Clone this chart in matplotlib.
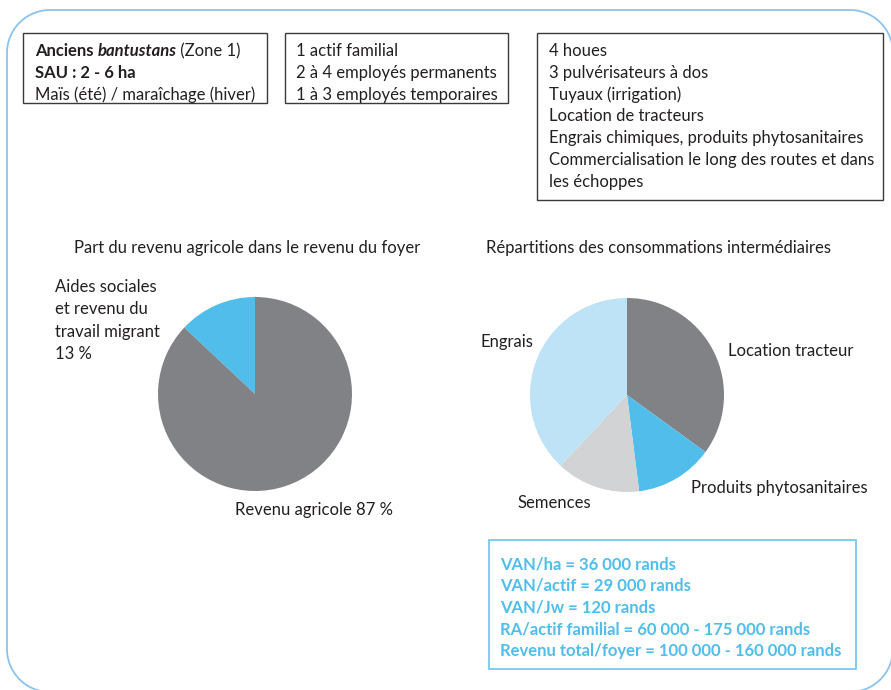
import matplotlib
matplotlib.use("Agg")
import numpy as np
import matplotlib.pyplot as plt
from matplotlib.patches import Rectangle, PathPatch
from matplotlib.path import Path

plt.rcParams["font.family"] = ["Lato", "DejaVu Sans"]

# =============================================================================
# Data
# =============================================================================
household_labels = [["Aides sociales", "et revenu du", "travail migrant", "13 %"],
                    ["Revenu agricole 87 %"]]
household_shares = [13, 87]

input_labels = ["Location tracteur", "Produits phytosanitaires", "Semences", "Engrais"]
input_shares = [35, 13, 14, 38]

labour_lines = ["1 actif familial", "2 à 4 employés permanents", "1 à 3 employés temporaires"]
equipment_lines = [
    "4 houes",
    "3 pulvérisateurs à dos",
    "Tuyaux (irrigation)",
    "Location de tracteurs",
    "Engrais chimiques, produits phytosanitaires",
    "Commercialisation le long des routes et dans",
    "les échoppes",
]
result_lines = [
    "VAN/ha = 36 000 rands",
    "VAN/actif = 29 000 rands",
    "VAN/Jw = 120 rands",
    "RA/actif familial = 60 000 - 175 000 rands",
    "Revenu total/foyer = 100 000 - 160 000 rands",
]

# =============================================================================
# Style
# =============================================================================
TXT = "#231f20"
DARK_GREY = "#808285"
BLUE = "#50bdea"
LIGHT_GREY = "#d1d3d4"
LIGHT_BLUE = "#bee2f6"
FRAME = "#8cc3ee"
FS = 12
LINE = 21.8
DY = 2  # visual baseline correction for va="center"

W, H = 891, 690
fig = plt.figure(figsize=(W / 100, H / 100), dpi=100)
ax = fig.add_axes([0, 0, 1, 1])
ax.set_xlim(0, W)
ax.set_ylim(H, 0)
ax.axis("off")


def label(x, y, s, **kw):
    kw.setdefault("color", TXT)
    return ax.text(x, y + DY, s, fontsize=FS, va="center", **kw)


# outer rounded frame (pixel coords, y downwards)
def rounded_frame(x0, y0, x1, y1, r):
    pts = []
    corners = [(x1 - r, y0 + r, -90, 0), (x1 - r, y1 - r, 0, 90),
               (x0 + r, y1 - r, 90, 180), (x0 + r, y0 + r, 180, 270)]
    for cx, cy, a0, a1 in corners:
        t = np.radians(np.linspace(a0, a1, 30))
        pts += list(zip(cx + r * np.cos(t), cy + r * np.sin(t)))
    pts.append(pts[0])
    return Path(pts)


ax.add_patch(PathPatch(rounded_frame(7, 10, 893, 692, 43), fc="none", ec=FRAME, lw=1.3))

# top boxes
for (x0, y0, x1, y1) in [(23, 33, 267, 103), (285, 33, 508, 103), (537, 33, 883, 200)]:
    ax.add_patch(Rectangle((x0, y0), x1 - x0, y1 - y0, fc="none", ec="#3a3a3a", lw=1.0))

# box 1 (mixed styles)
t1 = label(35, 49, "Anciens ", fontweight="bold")
t2 = ax.annotate("bantustans", xy=(1, 0), xycoords=t1, fontsize=FS, fontweight="bold",
                 fontstyle="italic", color=TXT, va="bottom")
ax.annotate(" (Zone 1)", xy=(1, 0), xycoords=t2, fontsize=FS, color=TXT, va="bottom")
label(35, 49 + LINE, "SAU : 2 - 6 ha", fontweight="bold")
label(35, 49 + 2 * LINE, "Maïs (été) / maraîchage (hiver)")

for i, s in enumerate(labour_lines):
    label(296, 49 + i * LINE, s)
for i, s in enumerate(equipment_lines):
    label(549, 49 + i * LINE, s)

# titles
label(74, 246, "Part du revenu agricole dans le revenu du foyer")
label(486, 246, "Répartitions des consommations intermédiaires")

# pie labels
for i, s in enumerate(household_labels[0]):
    label(55, 285 + i * 22.3, s)
label(235, 508, household_labels[1][0])
label(728, 349, input_labels[0])
label(691, 486, input_labels[1])
label(518, 501, input_labels[2])
label(480, 340, input_labels[3])

# result box
ax.add_patch(Rectangle((489, 540), 367, 129, fc="none", ec="#6cc4ec", lw=1.2))
for i, s in enumerate(result_lines):
    label(500, 562 + i * LINE, s, fontweight="bold", color=BLUE)

# =============================================================================
# Pies
# =============================================================================
R = 97


def pie_axes(cx, cy):
    return fig.add_axes([(cx - R) / W, 1 - (cy + R) / H, 2 * R / W, 2 * R / H])


ax_l = pie_axes(255, 394)
ax_l.pie(household_shares, colors=[BLUE, DARK_GREY], startangle=90, counterclock=True,
         wedgeprops=dict(linewidth=0))
ax_l.set_xlim(-1, 1)
ax_l.set_ylim(-1, 1)
ax_l.axis("off")

ax_r = pie_axes(627, 395)
ax_r.pie(input_shares, colors=[DARK_GREY, BLUE, LIGHT_GREY, LIGHT_BLUE], startangle=90,
         counterclock=False, wedgeprops=dict(linewidth=0))
ax_r.set_xlim(-1, 1)
ax_r.set_ylim(-1, 1)
ax_r.axis("off")

fig.savefig("out.png", dpi=100)
plt.close(fig)
